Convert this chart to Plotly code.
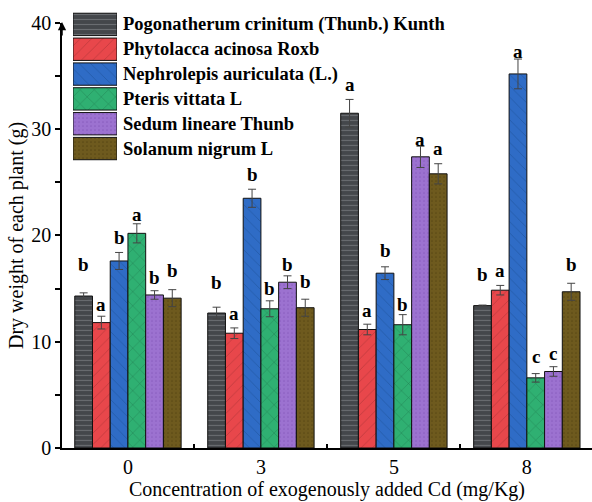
import plotly.graph_objects as go

categories = ["0", "3", "5", "8"]
series_names = [
    "Pogonatherum crinitum (Thunb.) Kunth",
    "Phytolacca acinosa Roxb",
    "Nephrolepis auriculata (L.)",
    "Pteris vittata L",
    "Sedum lineare Thunb",
    "Solanum nigrum L",
]
pogonatherum = [14.3, 12.7, 31.5, 13.4]
phytolacca = [11.8, 10.8, 11.15, 14.85]
nephrolepis = [17.6, 23.5, 16.45, 35.2]
pteris = [20.2, 13.1, 11.6, 6.6]
sedum = [14.4, 15.6, 27.4, 7.2]
solanum = [14.1, 13.2, 25.8, 14.7]

pogonatherum_err = [0.3, 0.55, 1.3, 0.05]
phytolacca_err = [0.6, 0.5, 0.5, 0.45]
nephrolepis_err = [0.8, 0.85, 0.6, 1.4]
pteris_err = [0.9, 0.75, 0.95, 0.4]
sedum_err = [0.4, 0.6, 1.0, 0.45]
solanum_err = [0.8, 0.8, 0.95, 0.8]

pogonatherum_sig = ["b", "b", "a", "b"]
phytolacca_sig = ["a", "a", "a", "a"]
nephrolepis_sig = ["b", "b", "b", "a"]
pteris_sig = ["a", "b", "b", "c"]
sedum_sig = ["b", "b", "a", "c"]
solanum_sig = ["b", "b", "a", "b"]

# heights at which the significance letters sit
pogonatherum_sig_y = [17.3, 15.6, 34.2, 16.3]
phytolacca_sig_y = [13.55, 12.65, 12.95, 16.7]
nephrolepis_sig_y = [19.8, 25.7, 18.6, 37.35]
pteris_sig_y = [22.0, 15.0, 13.5, 8.6]
sedum_sig_y = [16.0, 17.3, 29.0, 8.9]
solanum_sig_y = [16.7, 15.7, 28.2, 17.3]

values = [pogonatherum, phytolacca, nephrolepis, pteris, sedum, solanum]
errors = [pogonatherum_err, phytolacca_err, nephrolepis_err, pteris_err, sedum_err, solanum_err]
sigs = [pogonatherum_sig, phytolacca_sig, nephrolepis_sig, pteris_sig, sedum_sig, solanum_sig]
sig_ys = [pogonatherum_sig_y, phytolacca_sig_y, nephrolepis_sig_y, pteris_sig_y, sedum_sig_y, solanum_sig_y]

styles = [
    dict(color="#44474b", fg="#6a6d71", shape="-", size=5, sol=0.22),
    dict(color="#e8474b", fg="#bf3a3d", shape="/", size=8, sol=0.1),
    dict(color="#2f6cc6", fg="#245aa8", shape="\\", size=8, sol=0.1),
    dict(color="#2fb072", fg="#1f7a4e", shape="x", size=10, sol=0.08),
    dict(color="#9c72d0", fg="#8a5fc0", shape=".", size=4, sol=0.15),
    dict(color="#6e5a1e", fg="#5a4815", shape=".", size=4, sol=0.15),
]

SERIF = "Liberation Serif"
x_idx = list(range(len(categories)))

W, H = 592, 502
ml, mr, mt, mb = 62, 0, 8, 54
ph = H - mt - mb
pw = W - ml - mr
top_px = 20
main_top = (H - mb - top_px) / ph

def xfrac(px):
    return (px - ml) / pw

def yfrac(py):
    return (H - mb - py) / ph

fig = go.Figure()
n = len(series_names)
bargap = 0.2
slot = (1 - bargap) / n

for i, name in enumerate(series_names):
    st = styles[i]
    fig.add_trace(go.Bar(
        x=x_idx, y=values[i], name=name,
        marker=dict(color=st["color"], line=dict(color="#111111", width=1),
                    pattern=dict(shape=st["shape"], fgcolor=st["fg"], bgcolor=st["color"],
                                 size=st["size"], solidity=st["sol"], fillmode="replace")),
        error_y=dict(type="data", array=errors[i], color="#444444", thickness=1, width=4),
        showlegend=False,
    ))
    for j in x_idx:
        xpos = j - (1 - bargap) / 2 + slot * (i + 0.5)
        fig.add_annotation(x=xpos, y=sig_ys[i][j], xref="x", yref="y", text=f"<b>{sigs[i][j]}</b>",
                           showarrow=False, font=dict(family=SERIF, size=19, color="black"),
                           xanchor="center", yanchor="middle")

# custom legend with large patterned swatches
for i, name in enumerate(series_names):
    st = styles[i]
    fig.add_trace(go.Bar(
        x=[1], y=[i], orientation="h", xaxis="x2", yaxis="y2", offsetgroup="leg", width=0.9,
        marker=dict(color=st["color"], line=dict(color="#111111", width=1),
                    pattern=dict(shape=st["shape"], fgcolor=st["fg"], bgcolor=st["color"],
                                 size=st["size"], solidity=st["sol"], fillmode="replace")),
        showlegend=False, hoverinfo="skip",
    ))
    fig.add_annotation(x=xfrac(121), y=i, xref="paper", yref="y2", text=f"<b>{name}</b>", showarrow=False,
                       xanchor="left", yanchor="middle", font=dict(family=SERIF, size=18.5, color="black"))

# invisible overlay axis carrying the small between-group ticks
fig.add_trace(go.Scatter(x=[0.5], y=[0], xaxis="x3", mode="markers", marker=dict(opacity=0),
                         showlegend=False, hoverinfo="skip"))

# y axis arrow
fig.add_annotation(x=0, y=yfrac(19), xref="paper", yref="paper", ax=0, ay=15, text="", showarrow=True,
                   arrowhead=2, arrowsize=1.1, arrowwidth=1.5, arrowcolor="black")

fig.update_layout(
    width=W, height=H,
    margin=dict(l=ml, r=mr, t=mt, b=mb),
    paper_bgcolor="white", plot_bgcolor="white",
    barmode="group", bargap=bargap, bargroupgap=0,
    font=dict(family=SERIF, color="black"),
    xaxis=dict(
        range=[-0.496, 3.49], tickmode="array", tickvals=x_idx, ticktext=categories,
        ticks="", showline=True, linecolor="black", linewidth=1.5, showgrid=False, zeroline=False,
        tickfont=dict(family=SERIF, size=20, color="black"),
        title=dict(text="Concentration of exogenously added Cd (mg/Kg)",
                   font=dict(family=SERIF, size=20, color="black"), standoff=0),
    ),
    xaxis3=dict(range=[-0.496, 3.49], overlaying="x", anchor="y", side="bottom",
                tickmode="array", tickvals=[0.5, 1.5, 2.5], ticks="inside", ticklen=4,
                tickwidth=1.5, tickcolor="black", showticklabels=False, showline=False,
                showgrid=False, zeroline=False),
    yaxis=dict(
        domain=[0, main_top], range=[0, 40], tickvals=[0, 10, 20, 30, 40],
        ticks="outside", ticklen=5, tickwidth=1.5, tickcolor="black",
        showline=True, linecolor="black", linewidth=1.5, showgrid=False, zeroline=False,
        tickfont=dict(family=SERIF, size=20, color="black"),
        minor=dict(tickvals=[5, 15, 25, 35], ticks="outside", ticklen=5, tickwidth=1.5,
                   tickcolor="black", showgrid=False),
        title=dict(text="Dry weight of each plant (g)", font=dict(family=SERIF, size=20, color="black"),
                   standoff=2),
    ),
    xaxis2=dict(domain=[xfrac(73), xfrac(117)], range=[0, 1], visible=False, anchor="y2"),
    yaxis2=dict(domain=[yfrac(159), yfrac(9)], range=[5.5, -0.5], visible=False, anchor="x2"),
)

fig.write_html("out.html")
